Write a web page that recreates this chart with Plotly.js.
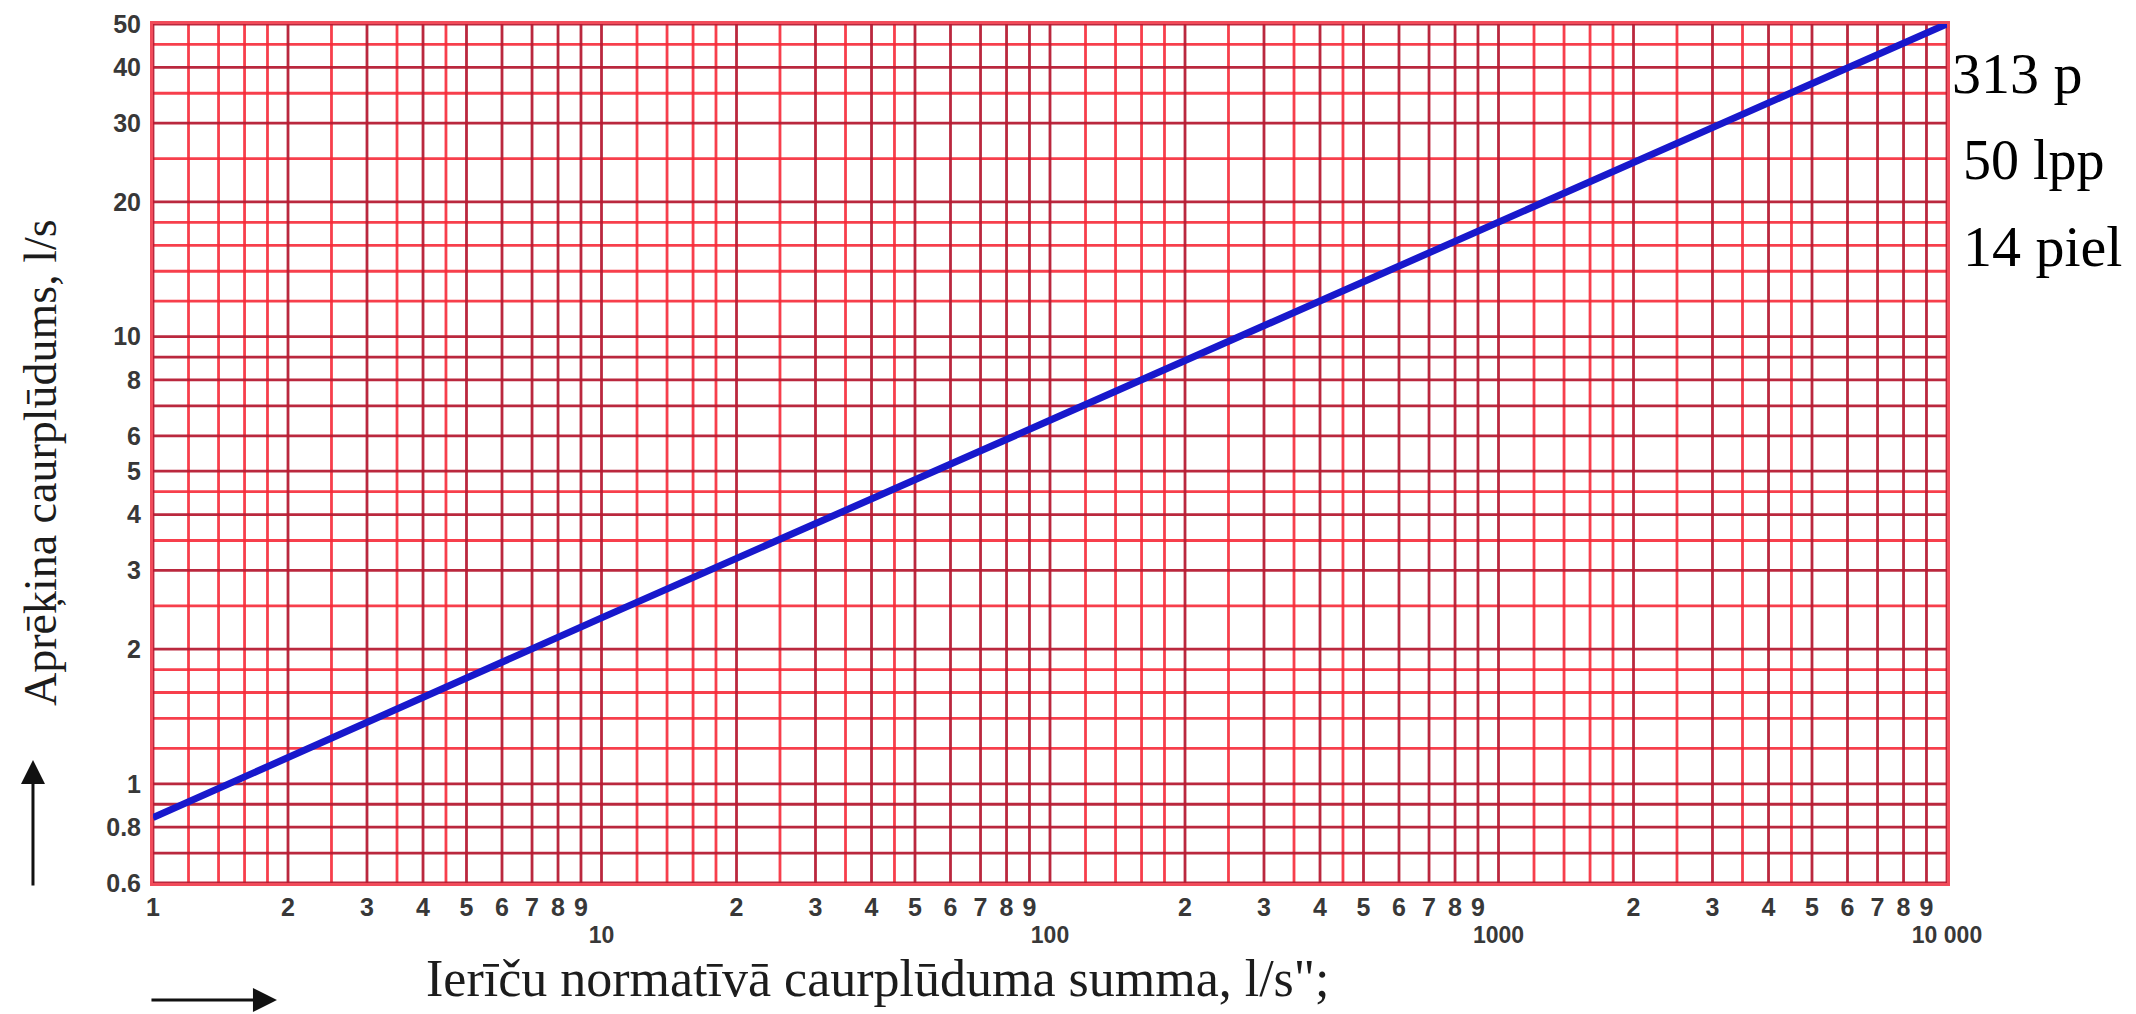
<!DOCTYPE html>
<html>
<head>
<meta charset="utf-8">
<script src="https://cdn.plot.ly/plotly-3.0.1.min.js"></script>
<style>
html,body{margin:0;padding:0;background:#ffffff;}
#chart{width:2136px;height:1014px;}
</style>
</head>
<body>
<div id="chart"></div>
<script>
// ---------- data ----------
const flowSum    = [1, 10, 100, 1000, 10000];      // Ierīču normatīvā caurplūduma summa, l/s
const designFlow = [0.84, 2.35, 6.5, 18, 50];      // Aprēķina caurplūdums, l/s

const xGridValues = [1,1.2,1.4,1.6,1.8,2,2.5,3,3.5,4,4.5,5,6,7,8,9,
  10,12,14,16,18,20,25,30,35,40,45,50,60,70,80,90,
  100,120,140,160,180,200,250,300,350,400,450,500,600,700,800,900,
  1000,1200,1400,1600,1800,2000,2500,3000,3500,4000,4500,5000,6000,7000,8000,9000,10000];
const yGridValues = [0.6,0.7,0.8,0.9,1,1.2,1.4,1.6,1.8,2,2.5,3,3.5,4,4.5,5,6,7,8,9,
  10,12,14,16,18,20,25,30,35,40,45,50];

const xDigitTickVals = [1,2,3,4,5,6,7,8,9,20,30,40,50,60,70,80,90,200,300,400,500,600,700,800,900,2000,3000,4000,5000,6000,7000,8000,9000];
const xDigitTickText = ['1','2','3','4','5','6','7','8','9','2','3','4','5','6','7','8','9','2','3','4','5','6','7','8','9','2','3','4','5','6','7','8','9'];
const xDecadeTickVals = [10, 100, 1000, 10000];
const xDecadeTickText = ['10', '100', '1000', '10 000'];
const yTickVals = [0.6,0.8,1,2,3,4,5,6,8,10,20,30,40,50];
const yTickText = ['0.6','0.8','1','2','3','4','5','6','8','10','20','30','40','50'];

const xTitle = 'Ierīču normatīvā caurplūduma summa, l/s";';
const yTitle = 'Aprēķina caurplūdums, l/s';
const sideNotes = ['313 p', '50 lpp', '14 piel'];

// ---------- styling ----------
const yMin = yGridValues[0], yMax = yGridValues[yGridValues.length - 1];
const xMin = xGridValues[0], xMax = xGridValues[xGridValues.length - 1];
const DARK = 'rgba(182,28,52,0.95)';
const BRIGHT = 'rgba(246,42,56,0.9)';
function isWhole(v){ const m = v / Math.pow(10, Math.floor(Math.log10(v)+1e-9)); return Math.abs(m - Math.round(m)) < 1e-6; }

function gridTrace(vals, vertical, color){
  const xs = [], ys = [];
  vals.forEach(v => {
    if (vertical){ xs.push(v, v, null); ys.push(yMin, yMax, null); }
    else { xs.push(xMin, xMax, null); ys.push(v, v, null); }
  });
  return {x: xs, y: ys, type: 'scatter', mode: 'lines', xaxis: 'x', yaxis: 'y',
    line: {color: color, width: 2.8}, hoverinfo: 'skip', showlegend: false};
}

const traces = [
  gridTrace(xGridValues.filter(v => !isWhole(v)), true, BRIGHT),
  gridTrace(yGridValues.filter(v => !isWhole(v)), false, BRIGHT),
  gridTrace(xGridValues.filter(v => isWhole(v)), true, DARK),
  gridTrace(yGridValues.filter(v => isWhole(v)), false, DARK),
  {x: flowSum, y: designFlow, type: 'scatter', mode: 'lines', xaxis: 'x', yaxis: 'y',
   line: {color: '#1818cc', width: 7}, hoverinfo: 'skip', showlegend: false},
  {x: xDecadeTickVals, y: xDecadeTickVals.map(() => 1), type: 'scatter', mode: 'markers',
   xaxis: 'x2', yaxis: 'y', opacity: 0, hoverinfo: 'skip', showlegend: false}
];

const tickFont = {family: 'Liberation Sans, Arial, sans-serif', size: 25, color: '#383838', weight: 'bold'};
const serif = 'Liberation Serif, Times New Roman, serif';

const layout = {
  width: 2136, height: 1014,
  margin: {l: 153, r: 189, t: 24, b: 131, pad: 0},
  paper_bgcolor: '#ffffff', plot_bgcolor: '#ffffff',
  showlegend: false,
  xaxis: {type: 'log', range: [Math.log10(xMin), Math.log10(xMax)], tickmode: 'array',
    tickvals: xDigitTickVals, ticktext: xDigitTickText, tickangle: 0,
    showgrid: false, zeroline: false, ticks: '', showline: true, mirror: true,
    linecolor: 'rgba(240,55,72,0.9)', linewidth: 3, tickfont: tickFont, fixedrange: true},
  xaxis2: {type: 'log', range: [Math.log10(xMin), Math.log10(xMax)], overlaying: 'x', anchor: 'y',
    side: 'bottom', tickmode: 'array', tickvals: xDecadeTickVals, ticktext: xDecadeTickText,
    tickangle: 0, showgrid: false, zeroline: false, ticks: '', showline: false,
    ticklabelstandoff: 36, tickfont: Object.assign({}, tickFont, {size: 23}), fixedrange: true},
  yaxis: {type: 'log', range: [Math.log10(yMin), Math.log10(yMax)], tickmode: 'array',
    tickvals: yTickVals, ticktext: yTickText, showgrid: false, zeroline: false, ticks: '',
    showline: true, mirror: true, linecolor: 'rgba(240,55,72,0.9)', linewidth: 3,
    ticklabelstandoff: 4, tickfont: tickFont, fixedrange: true},
  annotations: [
    {xref: 'paper', yref: 'paper', x: -0.063, y: 0.49, text: yTitle, textangle: -90,
     showarrow: false, xanchor: 'center', yanchor: 'middle', font: {family: serif, size: 46, color: '#1c1c1c'}},
    {xref: 'paper', yref: 'paper', x: 0.404, y: -0.1106, text: xTitle,
     showarrow: false, xanchor: 'center', yanchor: 'middle', font: {family: serif, size: 52, color: '#1c1c1c'}},
    {xref: 'paper', yref: 'paper', x: -0.0669, y: 0.1432, ax: 0, ay: 127, text: '',
     showarrow: true, arrowhead: 2, arrowsize: 1.6, arrowwidth: 3, arrowcolor: '#111111', standoff: 0},
    {xref: 'paper', yref: 'paper', x: 0.0691, y: -0.1362, ax: -127, ay: 0, text: '',
     showarrow: true, arrowhead: 2, arrowsize: 1.6, arrowwidth: 3, arrowcolor: '#111111', standoff: 0},
    {xref: 'paper', yref: 'paper', x: 1.0015, y: 0.942, text: sideNotes[0], showarrow: false,
     xanchor: 'left', yanchor: 'middle', font: {family: serif, size: 58, color: '#000000'}},
    {xref: 'paper', yref: 'paper', x: 1.0078, y: 0.842, text: sideNotes[1], showarrow: false,
     xanchor: 'left', yanchor: 'middle', font: {family: serif, size: 56, color: '#000000'}},
    {xref: 'paper', yref: 'paper', x: 1.0078, y: 0.741, text: sideNotes[2], showarrow: false,
     xanchor: 'left', yanchor: 'middle', font: {family: serif, size: 58, color: '#000000'}}
  ]
};

Plotly.newPlot('chart', traces, layout, {staticPlot: true, displayModeBar: false});
</script>
</body>
</html>
